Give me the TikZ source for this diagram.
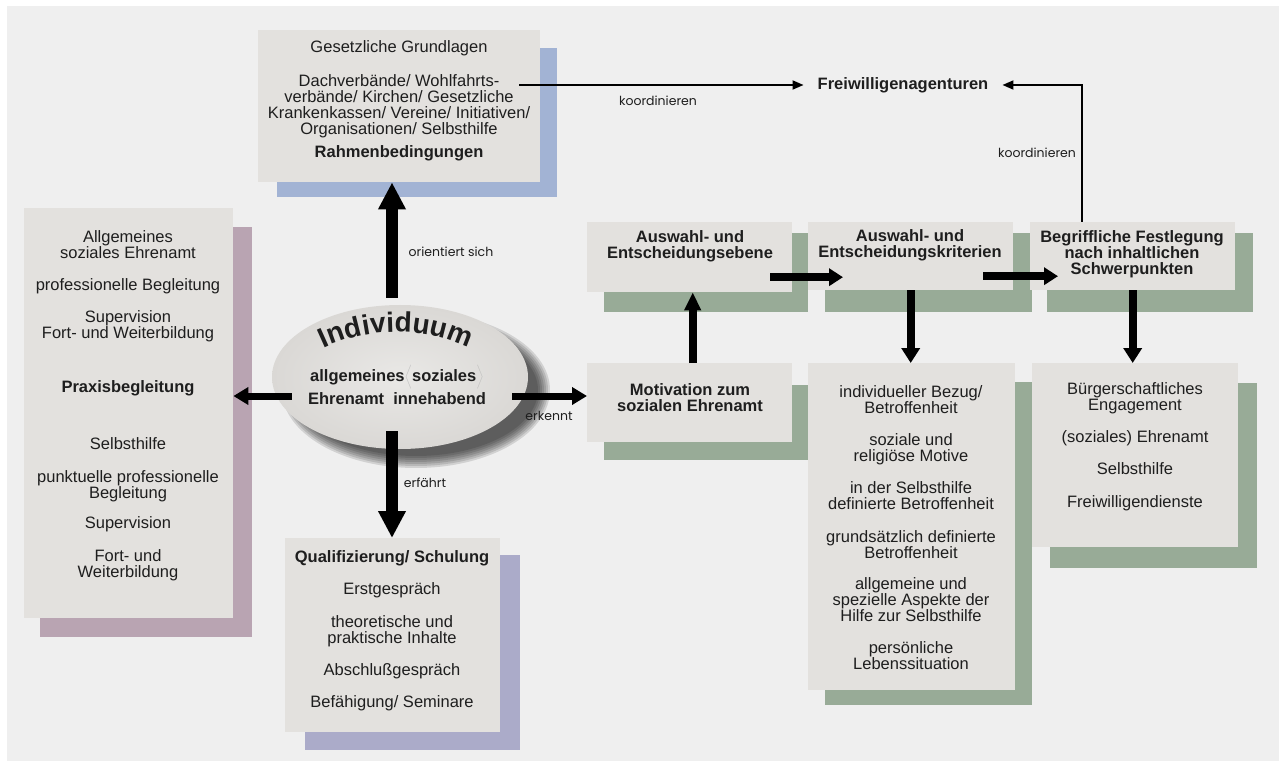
\documentclass[tikz,border=0pt]{standalone}
\usepackage{fontspec}
\setmainfont{Liberation Sans}
\newfontfamily\lblfont{Poppins}
\usetikzlibrary{arrows.meta,calc,shapes.geometric,decorations.text}

\definecolor{canvasgray}{HTML}{EFEFEF}
\definecolor{boxfill}{HTML}{E3E1DE}
\definecolor{shblue}{HTML}{A2B3D4}
\definecolor{shmauve}{HTML}{B9A4B2}
\definecolor{shgreen}{HTML}{98AB97}
\definecolor{shlilac}{HTML}{ABABC9}
\definecolor{ink}{HTML}{1E1E1E}
\definecolor{ellin}{HTML}{E9E8E6}
\definecolor{ellout}{HTML}{DAD8D5}

\pgfdeclarelayer{bg}
\pgfdeclarelayer{shadows}
\pgfsetlayers{bg,shadows,main}
\setlength{\lineskiplimit}{-8pt}

\tikzset{
  panel/.style={fill=boxfill, draw=none, inner sep=0pt, anchor=north west},
  body/.style={font=\fontsize{16.5}{16}\selectfont,
               text=ink, align=center, inner sep=0pt, anchor=north},
  bodyb/.style={body, font=\bfseries\fontsize{16.5}{16}\selectfont},
  lbl/.style={font=\lblfont\fontsize{12.5}{13}\selectfont, text=ink, inner sep=0pt},
  bigarrow/.style={draw=black, line width=12pt, -{Triangle[length=27pt,width=26pt]}},
  sidearrow/.style={draw=black, line width=7pt, -{Triangle[length=15pt,width=17pt]}},
  flowarrow/.style={draw=black, line width=8pt, -{Triangle[length=14pt,width=17pt]}},
  thinarrow/.style={draw=black, line width=1.8pt, -{Triangle[length=11pt,width=9pt]}},
}

\begin{document}
\begin{tikzpicture}[x=1pt, y=-1pt]
\useasboundingbox (0,0) rectangle (1285,767);
\begin{pgfonlayer}{bg}
  \fill[white] (0,0) rectangle (1285,767);
  \fill[canvasgray] (7,6) rectangle (1279,761);
\end{pgfonlayer}

% ---------- boxes ----------
\node[panel, minimum width=282pt, minimum height=152pt] (rahmen)   at (258,30)  {};
\node[panel, minimum width=209pt, minimum height=410pt] (praxis)   at (24,208)  {};
\node[panel, minimum width=215pt, minimum height=194pt] (quali)    at (285,538) {};
\node[panel, minimum width=205pt, minimum height=70pt]  (ebene)    at (587,222) {};
\node[panel, minimum width=205pt, minimum height=79pt]  (motiv)    at (587,363) {};
\node[panel, minimum width=205pt, minimum height=68pt]  (krit)     at (808,222) {};
\node[panel, minimum width=205pt, minimum height=68pt]  (begr)     at (1030,222) {};
\node[panel, minimum width=207pt, minimum height=327pt] (kritlist) at (808,363) {};
\node[panel, minimum width=206pt, minimum height=184pt] (buerger)  at (1032,363) {};

% ---------- central ellipse ----------
\node[ellipse, minimum width=256pt, minimum height=144pt, inner sep=0pt,
      inner color=ellin, outer color=ellout] (ind) at (400,377) {};

% ---------- offset shadows ----------
\begin{pgfonlayer}{shadows}
  \fill[shblue]  ($(rahmen.north west)+(19,18)$)   rectangle ($(rahmen.south east)+(17,15)$);
  \fill[shmauve] ($(praxis.north west)+(16,19)$)   rectangle ($(praxis.south east)+(19,19)$);
  \fill[shlilac] ($(quali.north west)+(20,17)$)    rectangle ($(quali.south east)+(20,18)$);
  \fill[shgreen] ($(ebene.north west)+(17,11)$)    rectangle ($(ebene.south east)+(16,20)$);
  \fill[shgreen] ($(motiv.north west)+(17,22)$)    rectangle ($(motiv.south east)+(16,18)$);
  \fill[shgreen] ($(krit.north west)+(17,11)$)     rectangle ($(krit.south east)+(19,22)$);
  \fill[shgreen] ($(begr.north west)+(17,11)$)     rectangle ($(begr.south east)+(18,22)$);
  \fill[shgreen] ($(kritlist.north west)+(17,19)$) rectangle ($(kritlist.south east)+(17,15)$);
  \fill[shgreen] ($(buerger.north west)+(18,20)$)  rectangle ($(buerger.south east)+(19,21)$);
  % soft shadow of the ellipse, built from stacked translucent ellipses
  \foreach \r in {0,2,...,12}
    \fill[black, opacity=0.12] ($(ind.center)+(16,13)$) ellipse [x radius=134-\r, y radius=78-\r];
\end{pgfonlayer}

% ---------- box texts ----------
\node[body] (rahmenT) at (399,40) {Gesetzliche Grundlagen\\[18pt]
  Dachverbände/ Wohlfahrts-\\ verbände/ Kirchen/ Gesetzliche\\
  Krankenkassen/ Vereine/ Initiativen/\\ Organisationen/ Selbsthilfe\\[7pt]
  \textbf{Rahmenbedingungen}};

\node[body] (praxisT) at (128,230) {Allgemeines\\ soziales Ehrenamt\\[16pt]
  professionelle Begleitung\\[16pt] Supervision\\ Fort- und Weiterbildung\\[38pt]
  \textbf{Praxisbegleitung}\\[41pt] Selbsthilfe\\[17pt]
  punktuelle professionelle\\ Begleitung\\[14pt] Supervision\\[17pt]
  Fort- und\\ Weiterbildung};

\node[body] (qualiT) at (392,550) {\textbf{Qualifizierung/ Schulung}\\[16pt]
  Erstgespräch\\[17pt] theoretische und\\ praktische Inhalte\\[16pt]
  Abschlußgespräch\\[16pt] Befähigung/ Seminare};

\node[bodyb] (ebeneT) at (690,230) {Auswahl- und\\ Entscheidungsebene};
\node[bodyb] (motivT) at (690,383) {Motivation zum\\ sozialen Ehrenamt};
\node[bodyb] (kritT)  at (910,229) {Auswahl- und\\ Entscheidungskriterien};
\node[bodyb] (begrT)  at (1132,230) {Begriffliche Festlegung\\ nach inhaltlichen\\ Schwerpunkten};

\node[body] (kritlistT) at (911,385) {individueller Bezug/\\ Betroffenheit\\[16pt]
  soziale und\\ religiöse Motive\\[16pt] in der Selbsthilfe\\ definierte Betroffenheit\\[17pt]
  grundsätzlich definierte\\ Betroffenheit\\[15pt] allgemeine und\\
  spezielle Aspekte der\\ Hilfe zur Selbsthilfe\\[16pt] persönliche\\ Lebenssituation};

\node[body] (buergerT) at (1135,382) {Bürgerschaftliches\\ Engagement\\[16pt]
  (soziales) Ehrenamt\\[16pt] Selbsthilfe\\[17pt] Freiwilligendienste};

% ---------- ellipse lettering ----------
\path[decorate, decoration={text along path, text align=center,
      text={|\color{ink}\bfseries\fontsize{28}{28}\selectfont|Individuum}}]
      (396,500) ++(-125:168) arc[start angle=-125, end angle=-55, radius=168];
\node[bodyb] (indT) at (397,369) {allgemeines\smash{\textcolor{gray!50}{$\bigg\langle$}}soziales\smash{\textcolor{gray!50}{$\bigg\rangle$}}\\[7pt]
  Ehrenamt\ \ innehabend};

% ---------- top target ----------
\node[font=\bfseries\fontsize{16.5}{16}\selectfont, text=ink, inner xsep=14pt, inner ysep=0pt]
      (fa) at (903,85) {Freiwilligenagenturen};

% ---------- connectors ----------
\coordinate (upbase) at ($(ind.north)+(-8,-7)$);
\draw[bigarrow] (upbase) -- (upbase |- rahmen.south);
\coordinate (dnbase) at ($(ind.south)+(-8,-18)$);
\draw[bigarrow] (dnbase) -- (dnbase |- quali.north);
\coordinate (lbase) at ($(ind.west)+(20,19)$);
\draw[sidearrow] (lbase) -- (lbase -| praxis.east);
\coordinate (rbase) at ($(ind.east)+(-16,19)$);
\draw[sidearrow] (rbase) -- (rbase -| motiv.west);

\coordinate (mbase) at ($(motiv.north)+(3,0)$);
\draw[flowarrow, -{Triangle[length=18pt,width=16pt]}] (mbase) -- (mbase |- ebene.south);
\coordinate (e1) at ($(ebene.east)+(-22,20)$);
\draw[flowarrow] (e1) -- ($(krit.west |- e1)+(35,0)$);
\coordinate (e2) at ($(krit.east)+(-30,20)$);
\draw[flowarrow] (e2) -- ($(begr.west |- e2)+(28,0)$);
\draw[flowarrow, -{Triangle[length=15pt,width=18pt]}] (krit.south) -- (krit.south |- kritlist.north);
\draw[flowarrow, -{Triangle[length=15pt,width=18pt]}] (begr.south) -- (begr.south |- buerger.north);

\draw[thinarrow] ($(rahmen.north east)+(-21,55)$) -- (fa.west);
\draw[thinarrow] ($(begr.north west)+(52,0)$) |- (fa.east);

% ---------- connector labels ----------
\node[lbl] (lk1) at (658,101) {koordinieren};
\node[lbl] (lk2) at (1037,153) {koordinieren};
\node[lbl] (lor) at (451,252) {orientiert sich};
\node[lbl] (ler) at (549,416) {erkennt};
\node[lbl] (lef) at (425,483) {erfährt};
\end{tikzpicture}
\end{document}
